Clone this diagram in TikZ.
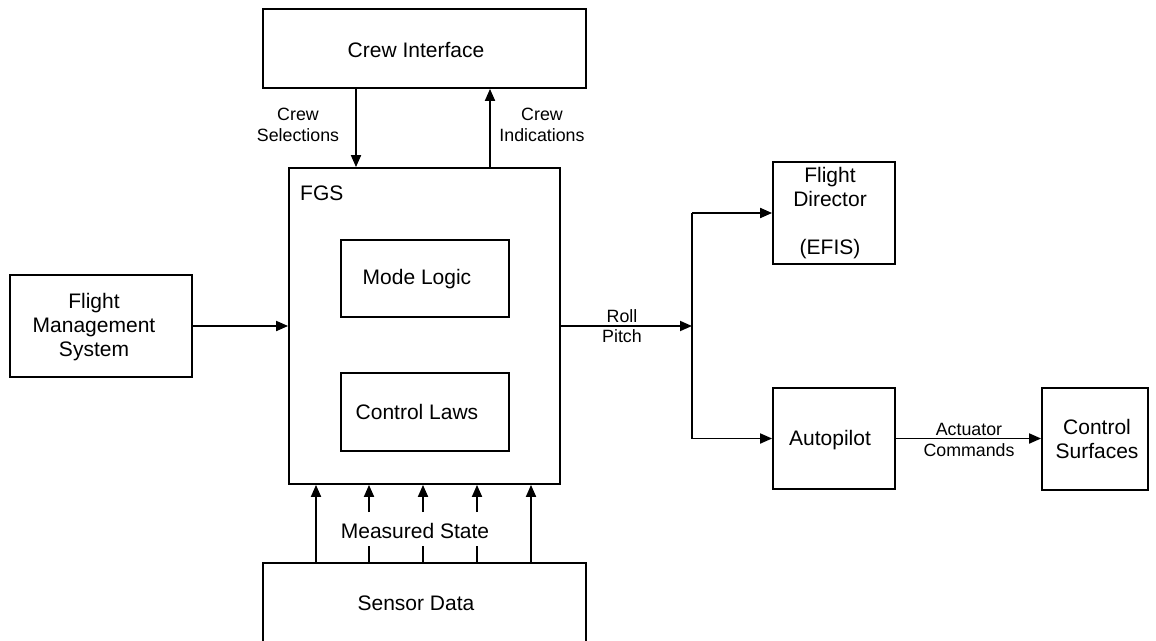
\documentclass[tikz,border=0pt]{standalone}
\usepackage{fontspec}
\setmainfont{Liberation Sans}
\usetikzlibrary{arrows.meta}
\begin{document}
\begin{tikzpicture}[x=1pt,y=-1pt,
  box/.style={draw, line width=1.8pt, inner sep=0pt},
  txt/.style={font=\mainsz, align=center, inner sep=0pt},
  arr/.style={line width=1.8pt, -{Triangle[length=12pt,width=10pt]}},
  ln/.style={line width=1.8pt},
  lbl/.style={font=\smallsz, align=center, inner sep=0pt}]
\newcommand\mainsz{\fontsize{21}{24}\selectfont}
\newcommand\smallsz{\fontsize{17.8}{20.5}\selectfont}
\useasboundingbox (0,0) rectangle (1156,640);
% boxes
\node[box, minimum width=323pt, minimum height=79pt] (crew) at (424.5,48.5) {};
\node[box, minimum width=271pt, minimum height=316pt] (fgs) at (424.5,326) {};
\node[box, minimum width=168pt, minimum height=77pt] (mode) at (425,278.5) {};
\node[box, minimum width=168pt, minimum height=78pt] (laws) at (425,412) {};
\node[box, minimum width=182pt, minimum height=102pt] (fms) at (101,326) {};
\node[box, minimum width=122pt, minimum height=102pt] (fd) at (834,213) {};
\node[box, minimum width=122pt, minimum height=101pt] (ap) at (834,438.5) {};
\node[box, minimum width=106pt, minimum height=102pt] (cs) at (1095,439) {};
\node[box, minimum width=323pt, minimum height=82pt] (sensor) at (424.5,604) {};
% box texts
\node[txt] (crewt) at (416,50) {Crew Interface};
\node[txt, anchor=west] (fgst) at (300,193) {FGS};
\node[txt] (modet) at (417,279) {Mode Logic};
\node[txt] (lawst) at (417,412) {Control Laws};
\node[txt] (fmst) at (94,327) {Flight\\Management\\System};
\node[txt] (fdt) at (830,213.5) {Flight\\Director\\[24pt](EFIS)};
\node[txt] (apt) at (830,440) {Autopilot};
\node[txt] (cst) at (1097,439) {Control\\Surfaces};
\node[txt] (sensort) at (416,603) {Sensor Data};

% crew arrows
\draw[arr] (356,0 |- crew.south) -- (356,0 |- fgs.north);
\draw[arr] (490,0 |- fgs.north) -- (490,0 |- crew.south);
\node[lbl] (csel) at (298,125) {Crew\\Selections};
\node[lbl] (cind) at (542,125) {Crew\\Indications};

% FMS to FGS
\draw[arr] (fms.east) -- (fgs.west);

% FGS to outputs
\coordinate (j) at (692,326);
\draw[arr] (fgs.east) -- (j);
\node[lbl] (rp) at (622,326) {Roll\\Pitch};
\draw[ln] (692,0 |- fd.west) -- (692,0 |- ap.west);
\draw[arr] (692,0 |- fd.west) -- (fd.west);
\draw[arr] (692,0 |- ap.west) -- (ap.west);

% autopilot to control surfaces
\draw[arr] (ap.east) -- (ap.east -| cs.west);
\node[lbl] (act) at (969,440) {Actuator\\Commands};

% measured state
\node[txt] (ms) at (415,531) {Measured State};
\draw[arr] (316,0 |- sensor.north) -- (316,0 |- fgs.south);
\draw[arr] (531,0 |- sensor.north) -- (531,0 |- fgs.south);
\foreach \xx in {369,423,477} {
  \draw[ln] (\xx,0 |- sensor.north) -- (\xx,546);
  \draw[arr] (\xx,512) -- (\xx,0 |- fgs.south);
}
\end{tikzpicture}
\end{document}
